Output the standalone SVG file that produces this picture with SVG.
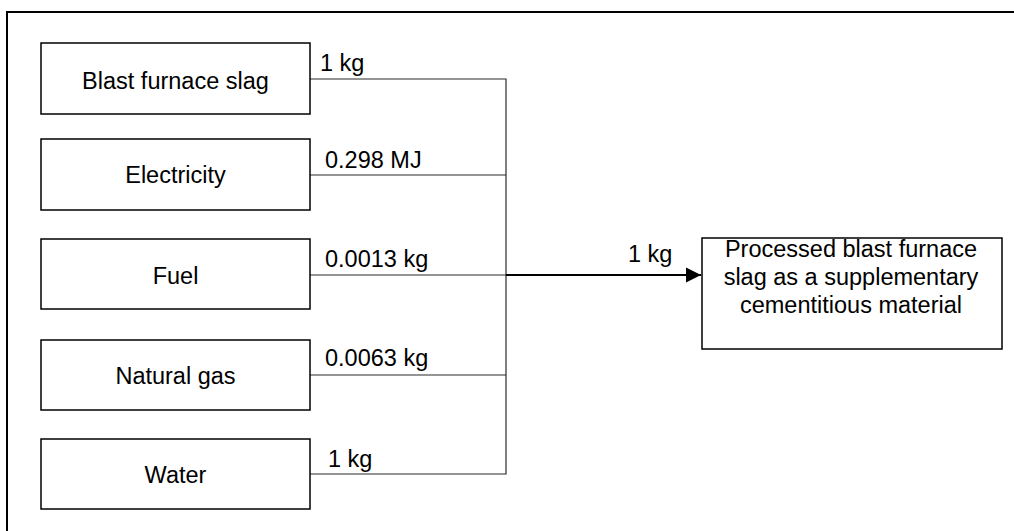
<svg xmlns="http://www.w3.org/2000/svg" width="1014" height="531" viewBox="0 0 1014 531">
  <style>
    .box { fill: #ffffff; stroke: #000000; stroke-width: 1.5; }
    .lbl { font-family: "Liberation Sans", Arial, sans-serif; font-size: 23.5px; fill: #000000; }
    .mid { text-anchor: middle; }
    .wire { fill: none; stroke: #2a2a2a; stroke-width: 1.2; }
    .flow { fill: none; stroke: #000000; stroke-width: 1.8; }
  </style>
  <defs>
    <marker id="arrowhead" viewBox="0 0 10 10" refX="10" refY="5" markerWidth="8.5" markerHeight="8.5" markerUnits="strokeWidth" orient="auto">
      <path d="M0,0 L10,5 L0,10 Z" fill="#000000"/>
    </marker>
  </defs>

  <rect width="1014" height="531" fill="#ffffff"/>

  <!-- outer frame (only top and left edges fall inside the canvas) -->
  <path d="M7,531 L7,12 L1014,12" fill="none" stroke="#000000" stroke-width="2"/>

  <!-- connectors -->
  <g id="connectors">
    <path class="wire" d="M310,79 L506,79 L506,474 L310,474"/>
    <path class="wire" d="M310,175 L506,175"/>
    <path class="wire" d="M310,275 L506,275"/>
    <path class="wire" d="M310,375 L506,375"/>
    <path class="flow" d="M506,275 L701,275" marker-end="url(#arrowhead)"/>
    <text class="lbl" x="320" y="71">1 kg</text>
    <text class="lbl" x="325" y="168">0.298 MJ</text>
    <text class="lbl" x="325" y="267">0.0013 kg</text>
    <text class="lbl" x="325" y="366">0.0063 kg</text>
    <text class="lbl" x="328" y="467">1 kg</text>
    <text class="lbl" x="628" y="262">1 kg</text>
  </g>

  <g id="node-slag">
    <rect class="box" x="41" y="43" width="269" height="71"/>
    <text class="lbl mid" x="175.5" y="89">Blast furnace slag</text>
  </g>
  <g id="node-electricity">
    <rect class="box" x="41" y="139" width="269" height="71"/>
    <text class="lbl mid" x="175.5" y="183">Electricity</text>
  </g>
  <g id="node-fuel">
    <rect class="box" x="41" y="239" width="269" height="70"/>
    <text class="lbl mid" x="175.5" y="284">Fuel</text>
  </g>
  <g id="node-gas">
    <rect class="box" x="41" y="340" width="269" height="70"/>
    <text class="lbl mid" x="175.5" y="384">Natural gas</text>
  </g>
  <g id="node-water">
    <rect class="box" x="41" y="439" width="269" height="70"/>
    <text class="lbl mid" x="175.5" y="483">Water</text>
  </g>

  <g id="node-product">
    <rect class="box" x="702" y="238" width="300" height="111"/>
    <text class="lbl mid" x="851" y="257">Processed blast furnace</text>
    <text class="lbl mid" x="851" y="285">slag as a supplementary</text>
    <text class="lbl mid" x="851" y="313">cementitious material</text>
  </g>
</svg>
